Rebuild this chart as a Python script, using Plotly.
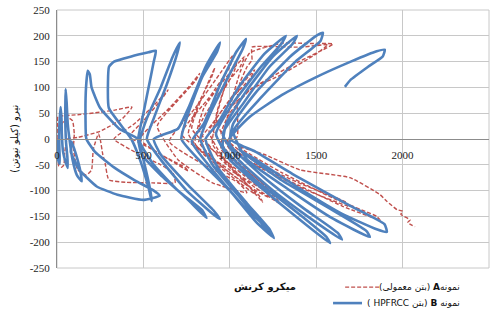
import plotly.graph_objects as go

# ---------------- data ----------------
x_ticks = [0, 500, 1000, 1500, 2000, 2500]
y_ticks = [-250, -200, -150, -100, -50, 0, 50, 100, 150, 200, 250]

name_a = "\u202bنمونه<b>A</b> (بتن معمولی)\u202c"
name_b = "\u202bنمونه <b>B</b> (بتن HPFRCC )\u202c"
x_title = "میکرو کرنش"
y_title = "\u202bنیرو (کیلو نیوتن)\u202c"

# Specimen B (HPFRCC): micro-strain / force (kN)
b_x = [0, 3, 8, 16, 14, 12, 16, 21, 26, 28, 35, 50, 62, 60, 52, 48, 50, 56, 62, 72, 90, 115, 143, 135, 110, 85,
       80, 130, 230, 350, 498, 594, 560, 450, 330, 220, 170,
       165, 168, 178, 190, 200, 250, 360, 468,
       500, 540, 548, 530, 480, 430,
       300, 295, 301, 330, 430, 530, 572, 560, 530, 500, 470,
       490, 600, 750, 865, 840, 700, 560, 480,
       520, 600, 670, 711, 695, 640, 560, 520,
       600, 750, 900, 942, 910, 760, 600, 560,
       700, 760, 860, 943, 925, 840, 760, 720,
       820, 1000, 1150, 1249, 1230, 1080, 900, 780,
       850, 950, 1040, 1093, 1075, 990, 880, 830,
       900, 1050, 1200, 1255, 1230, 1100, 930, 860,
       930, 1050, 1200, 1324, 1300, 1180, 1020, 920,
       1000, 1200, 1400, 1580, 1560, 1380, 1150, 960,
       980, 1100, 1250, 1388, 1365, 1230, 1080, 960,
       1050, 1250, 1450, 1649, 1625, 1430, 1200, 1000,
       1020, 1150, 1350, 1500, 1539, 1525, 1380, 1180, 1020,
       1100, 1350, 1600, 1810, 1790, 1580, 1300, 1050,
       1150, 1400, 1650, 1850, 1909, 1895, 1700, 1400, 1150, 1000,
       1116, 1300, 1500, 1700, 1850, 1897, 1885, 1800, 1700, 1666]
b_y = [0, -25, -42, -48, -20, 10, 40, 62, 40, 10, -25, -45, -56, -35, -5, 40, 97, 70, 30, 0, -40, -70, -82, -62, -30, -5,
       -25, -60, -92, -108, -118, -110, -100, -80, -55, -25, 0,
       40, 100, 132, 125, 100, 60, 20, 0,
       -40, -100, -120, -95, -40, 0,
       60, 110, 140, 150, 160, 168, 171, 150, 100, 50, 0,
       -30, -70, -115, -153, -138, -100, -50, -5,
       40, 100, 160, 187, 165, 110, 40, 0,
       -40, -100, -145, -155, -140, -90, -30, 0,
       20, 60, 140, 187, 168, 120, 50, 0,
       -40, -100, -160, -190, -178, -130, -60, -5,
       30, 110, 170, 194, 175, 120, 45, 0,
       -50, -110, -170, -192, -175, -125, -55, 0,
       30, 100, 165, 200, 185, 140, 70, 10,
       -40, -100, -155, -202, -190, -140, -80, -15,
       30, 95, 160, 200, 185, 140, 70, 10,
       -40, -100, -150, -195, -182, -135, -75, -10,
       30, 90, 160, 200, 206, 190, 150, 80, 15,
       -40, -100, -155, -190, -178, -135, -80, -20,
       -40, -95, -145, -175, -180, -165, -130, -75, -25, 0,
       43, 85, 120, 150, 170, 173, 160, 140, 115, 101]

# Specimen A (normal concrete): micro-strain / force (kN)
a_x = [0, 2, 5, 120, 250, 335, 434, 380, 250, 120, 60,
       45, 40, 25, 10, 5, 8, 30, 60, 90, 100, 95, 120, 170, 200, 210, 240,
       250, 265, 278, 300, 400, 550, 683, 672, 600, 450, 330,
       450, 560, 643, 600, 500, 420,
       550, 650, 760, 740, 600, 480,
       650, 760, 826, 800, 700, 580,
       700, 900, 1099, 1050, 850, 650,
       800, 950, 1020, 1000, 880, 720,
       900, 1100, 1231, 1200, 1000, 800,
       850, 980, 1086, 1060, 940, 820,
       950, 1150, 1290, 1260, 1080, 880,
       780, 850, 913, 895, 820, 760,
       850, 1000, 1150, 1120, 960, 820,
       900, 1030, 1144, 1120, 1000, 880,
       950, 1080, 1190, 1170, 1030, 900,
       920, 980, 1042, 1030, 960, 920,
       1000, 1200, 1450, 1695, 1670, 1420, 1150, 980,
       1042, 1042, 1060, 1100, 1128, 1128, 1250, 1406, 1500, 1568, 1500, 1300, 1116, 1000, 900,
       1000, 1200, 1367, 1340, 1150, 950,
       1000, 1060, 1116, 1307, 1450, 1597, 1400, 1250, 1116, 1000, 950,
       1100, 1400, 1650, 1870, 1850, 1600, 1300, 1050,
       1200, 1407, 1696, 1870, 1910, 1968, 2000, 1990, 2043, 2030, 2072]
a_y = [0, 25, 43, 47, 52, 56, 62, 40, 15, 3, 0,
       -25, -50, -55, -52, -30, 0, 30, 42, 35, 10, -20, -60, -70, -60, -20, 10,
       0, -30, -46, -79, -84, -85, -85, -66, -50, -25, 0,
       30, 65, 95, 75, 35, 5,
       -20, -40, -62, -55, -30, 0,
       60, 100, 127, 112, 75, 25,
       -40, -85, -104, -85, -50, -5,
       60, 130, 163, 140, 80, 10,
       -40, -90, -114, -100, -60, -10,
       60, 120, 160, 140, 90, 20,
       -40, -95, -125, -112, -70, -15,
       20, 90, 138, 120, 70, 10,
       -30, -70, -108, -95, -55, -5,
       30, 90, 134, 118, 75, 15,
       -30, -80, -122, -110, -65, -10,
       40, 110, 153, 135, 90, 40,
       -20, -60, -100, -131, -122, -88, -45, 0,
       4, 76, 110, 140, 153, 178, 179, 178, 181, 183, 165, 125, 95, 60, 20,
       -30, -90, -137, -125, -75, -20,
       60, 130, 167, 186, 185, 184, 150, 122, 95, 50, 10,
       -40, -90, -130, -157, -150, -115, -65, -15,
       -30, -60, -75, -108, -121, -137, -140, -146, -157, -162, -170]

RED = "#C0504D"
BLUE = "#4F81BD"
SERIF = "Liberation Serif, DejaVu Serif, serif"
ARAB = "DejaVu Sans, Liberation Serif, sans-serif"

fig = go.Figure()
fig.add_trace(go.Scatter(
    x=a_x, y=a_y, mode="lines", name=name_a, showlegend=False,
    line=dict(color=RED, width=1.4, dash="4px,2px", shape="spline", smoothing=0.45),
))
fig.add_trace(go.Scatter(
    x=b_x, y=b_y, mode="lines", name=name_b, showlegend=False,
    line=dict(color=BLUE, width=2.6, shape="spline", smoothing=0.45),
))

# manual legend (paper coordinates)
leg_rows = [(name_a, RED, "4px,2px", 1.4, 0.667, 0.748, -0.074),
            (name_b, BLUE, "solid", 2.6, 0.639, 0.706, -0.136)]
shapes = [dict(type="rect", xref="paper", yref="paper", x0=0, y0=0, x1=1, y1=1,
               line=dict(color="#c8c8c8", width=1), layer="below")]
annotations = [
    dict(text="<b>" + x_title + "</b>", xref="paper", yref="paper", x=0.481, y=-0.074,
         xanchor="center", yanchor="middle",
         showarrow=False, font=dict(family=ARAB, size=10, color="#111")),
    dict(text=y_title, xref="paper", yref="paper", x=-0.098, y=0.5, textangle=-90,
         xanchor="center", yanchor="middle",
         showarrow=False, font=dict(family=ARAB, size=10, color="#111")),
]
for txt, col, dash, w, x0, x1, yy in leg_rows:
    shapes.append(dict(type="line", xref="paper", yref="paper", x0=x0, x1=x1, y0=yy, y1=yy,
                       line=dict(color=col, width=w, dash=dash)))
    annotations.append(dict(text=txt, xref="paper", yref="paper", x=0.938, y=yy,
                            xanchor="right", yanchor="middle",
                            showarrow=False, font=dict(family=ARAB, size=9, color="#111")))

fig.update_layout(
    width=500, height=313,
    margin=dict(l=57, r=11, t=10, b=45, autoexpand=False),
    paper_bgcolor="white", plot_bgcolor="white",
    font=dict(family=SERIF, size=11, color="#222"),
    showlegend=False,
    xaxis=dict(range=[0, 2500], tickvals=x_ticks, ticktext=[str(v) for v in x_ticks],
               showgrid=True, gridcolor="#c8c8c8", gridwidth=1, zeroline=False,
               anchor="free", position=0.5, showline=True, linecolor="#8c8c8c",
               ticks="", ticklabelstandoff=6, automargin=False,
               tickfont=dict(family=SERIF, size=11, color="#222")),
    yaxis=dict(range=[-250, 250], tickvals=y_ticks, ticktext=[str(v) for v in y_ticks],
               showgrid=True, gridcolor="#c8c8c8", gridwidth=1, zeroline=False,
               showline=True, linecolor="#8c8c8c", ticks="", automargin=False,
               ticklabelstandoff=4,
               tickfont=dict(family=SERIF, size=11, color="#222")),
    shapes=shapes,
    annotations=annotations,
)

fig.write_html("out.html",
               config={"displayModeBar": False, "staticPlot": True},
               post_script="document.body.style.margin='0px';document.body.style.padding='0px';")
